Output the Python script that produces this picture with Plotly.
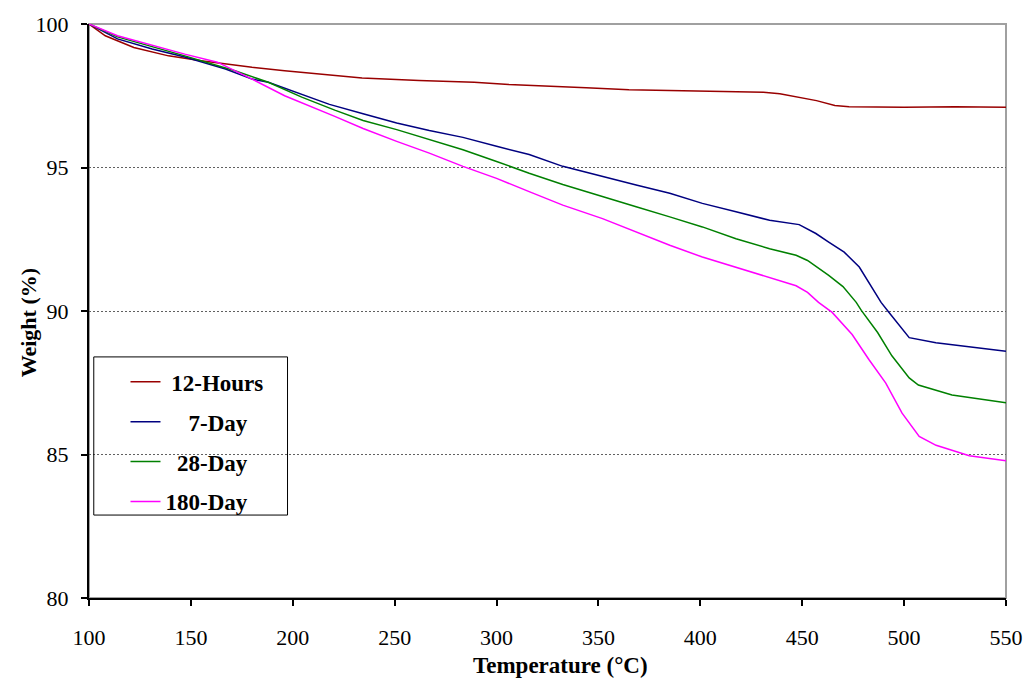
import plotly.graph_objects as go

# ---- data (Temperature °C, Weight %) ----
t_12h = [100, 108, 122, 139, 155, 163, 180, 196, 218, 234, 262, 289, 306, 323, 344,
         365, 408, 431, 439, 447, 457, 466, 473, 500, 525, 550]
w_12h = [100, 99.59, 99.18, 98.89, 98.72, 98.64, 98.49, 98.37, 98.21, 98.12, 98.03,
         97.97, 97.89, 97.85, 97.78, 97.71, 97.66, 97.62, 97.57, 97.47, 97.33, 97.16,
         97.12, 97.10, 97.12, 97.10]

t_7d = [100, 114, 131, 147, 167, 180, 188, 200, 218, 234.5, 251, 267, 283.5, 300, 316,
        332.5, 352, 368.5, 385, 401, 417.5, 434, 448.5, 456.7, 463, 470.6, 478, 488.7,
        492.6, 499, 502.5, 515.6, 532, 550]
w_7d = [100, 99.48, 99.13, 98.85, 98.43, 98.08, 97.97, 97.67, 97.20, 96.87, 96.55,
        96.29, 96.05, 95.74, 95.45, 95.04, 94.68, 94.39, 94.10, 93.75, 93.46, 93.16,
        93.01, 92.70, 92.40, 92.05, 91.53, 90.30, 89.95, 89.36, 89.07, 88.89, 88.75, 88.60]

t_28d = [100, 114, 147, 171.6, 188, 204.4, 220.6, 234.5, 251, 267, 283.5, 300, 316,
         332.5, 352, 368.5, 385, 401, 417.5, 434, 447, 452.6, 463, 470, 476.5, 479, 487,
         494, 502.5, 507, 523.5, 550]
w_28d = [100, 99.55, 98.89, 98.37, 97.97, 97.45, 97.00, 96.64, 96.32, 95.97, 95.62,
         95.21, 94.80, 94.41, 93.98, 93.63, 93.28, 92.93, 92.52, 92.17, 91.94, 91.76,
         91.24, 90.85, 90.30, 90.02, 89.25, 88.44, 87.67, 87.42, 87.07, 86.80]

t_180d = [100, 114, 147, 163, 180, 196, 220.6, 234.5, 251, 267, 283.5, 300, 316, 332.5,
          352, 368.5, 385, 401, 417.5, 434, 447, 452.6, 458, 464.7, 474.5, 482.8, 491,
          499, 507.4, 515.7, 532, 550]
w_180d = [100, 99.59, 98.95, 98.67, 98.08, 97.50, 96.78, 96.36, 95.91, 95.50, 95.04,
          94.62, 94.16, 93.69, 93.22, 92.75, 92.29, 91.88, 91.53, 91.18, 90.88, 90.65,
          90.30, 89.95, 89.18, 88.30, 87.49, 86.44, 85.63, 85.32, 84.96, 84.78]

series_names = ["\u00a012-Hours", "\u00a0\u00a0\u00a0\u00a07-Day", "\u00a0\u00a028-Day", "180-Day"]
series_colors = ["#990000", "#000080", "#008000", "#FF00FF"]
x_ticks = [100, 150, 200, 250, 300, 350, 400, 450, 500, 550]
y_ticks = [80, 85, 90, 95, 100]
x_title = "Temperature (\u00b0C)"
y_title = "Weight (%)"

FONT = "Liberation Serif"

fig = go.Figure()
for i, (t, w) in enumerate([(t_12h, w_12h), (t_7d, w_7d), (t_28d, w_28d), (t_180d, w_180d)]):
    fig.add_trace(go.Scatter(
        x=t, y=w, mode="lines", name=series_names[i], legendgroup=f"g{i}",
        line=dict(color=series_colors[i], width=1.5),
    ))

fig.update_layout(
    width=1026, height=680,
    margin=dict(l=88.5, r=19.5, t=23.5, b=82),
    paper_bgcolor="white", plot_bgcolor="white",
    font=dict(family=FONT, color="black"),
    showlegend=True,
    legend=dict(
        x=0.0398, y=0.414, xanchor="left", yanchor="top",
        bgcolor="rgba(0,0,0,0)", borderwidth=0,
        font=dict(family=FONT, size=23, weight="bold", color="black"),
        traceorder="grouped", tracegroupgap=7,
    ),
    shapes=[
        dict(type="rect", xref="paper", yref="paper", x0=0, x1=1, y0=0, y1=1,
             line=dict(color="#a0a0a0", width=2), layer="below"),
        dict(type="rect", xref="paper", yref="paper",
             x0=0.0052, x1=0.2165, y0=0.1445, y1=0.42,
             line=dict(color="black", width=1), fillcolor="rgba(0,0,0,0)"),
    ],
    annotations=[
        dict(text=x_title, xref="paper", yref="paper", x=0.5146, y=-0.1184,
             xanchor="center", yanchor="middle", showarrow=False,
             font=dict(family=FONT, size=23, weight="bold", color="black")),
        dict(text=y_title, xref="paper", yref="paper", x=-0.0664, y=0.4787,
             xanchor="center", yanchor="middle", showarrow=False, textangle=-90,
             font=dict(family=FONT, size=22, weight="bold", color="black")),
    ],
)

fig.update_xaxes(
    range=[100, 550], tickvals=x_ticks, ticktext=[str(v) for v in x_ticks],
    showgrid=False, zeroline=False, automargin=False,
    showline=True, linecolor="black", linewidth=2,
    ticks="outside", ticklen=6, tickwidth=1.5, tickcolor="black",
    tickfont=dict(family=FONT, size=22, color="black"),
    ticklabelstandoff=13,
)
fig.update_yaxes(
    range=[80, 100], tickvals=y_ticks, ticktext=[str(v) for v in y_ticks],
    showgrid=True, gridcolor="#606060", gridwidth=1, griddash="2px,2px",
    zeroline=False, automargin=False,
    showline=True, linecolor="black", linewidth=2,
    ticks="outside", ticklen=6, tickwidth=1.5, tickcolor="black",
    tickfont=dict(family=FONT, size=22, color="black"),
    ticklabelstandoff=8,
)

fig.write_html("out.html")
